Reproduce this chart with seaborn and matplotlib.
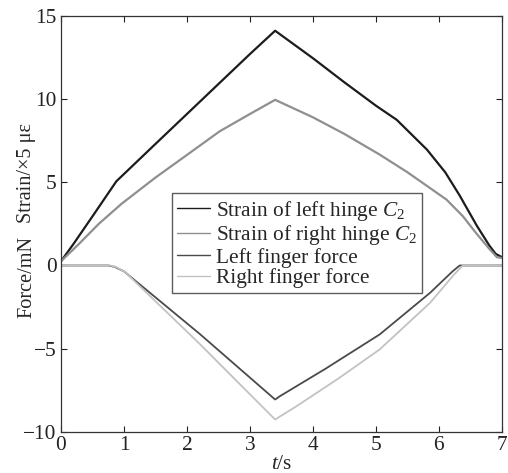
import matplotlib
matplotlib.use("Agg")
import matplotlib.pyplot as plt
import seaborn as sns
import pandas as pd

sns.set_style("ticks")
plt.rcParams['font.family'] = ['Liberation Serif', 'DejaVu Serif']
plt.rcParams['mathtext.fontset'] = 'custom'
plt.rcParams['mathtext.rm'] = 'Liberation Serif'
plt.rcParams['mathtext.it'] = 'Liberation Serif:italic'

# Strain of left hinge C2 (x5 microstrain)
t_strain_left = [0.0, 0.2, 0.5, 0.88, 1.5, 2.0, 2.5, 3.0, 3.4, 4.0, 4.5, 5.0, 5.33, 5.81, 6.1, 6.33, 6.6, 6.8, 6.9, 7.0]
strain_left = [0.25, 1.3, 2.95, 5.06, 7.3, 9.1, 10.9, 12.7, 14.1, 12.45, 11.0, 9.6, 8.75, 6.96, 5.6, 4.2, 2.4, 1.2, 0.7, 0.5]

# Strain of right hinge C2
t_strain_right = [0.0, 0.3, 0.6, 0.96, 1.5, 2.0, 2.52, 3.0, 3.4, 3.6, 4.0, 4.5, 5.06, 5.5, 6.12, 6.38, 6.6, 6.8, 6.92, 7.0]
strain_right = [0.25, 1.35, 2.5, 3.7, 5.28, 6.64, 8.06, 9.1, 9.95, 9.6, 8.9, 7.9, 6.66, 5.6, 3.96, 2.96, 1.9, 1.0, 0.5, 0.45]

# Left finger force (mN)
t_force_left = [0.0, 0.75, 0.85, 1.0, 2.2, 3.4, 3.48, 4.2, 5.06, 5.86, 6.22, 6.33, 7.0]
force_left = [0.0, 0.0, -0.08, -0.35, -4.1, -8.05, -7.84, -6.2, -4.14, -1.64, -0.34, 0.0, 0.0]

# Right finger force (mN)
t_force_right = [0.0, 0.78, 0.88, 1.02, 2.2, 3.4, 3.74, 4.4, 5.06, 5.86, 6.25, 6.38, 7.0]
force_right = [0.0, 0.0, -0.1, -0.4, -4.7, -9.25, -8.45, -6.8, -5.04, -2.24, -0.5, 0.0, 0.0]

labels = ["Strain of left hinge $C_2$", "Strain of right hinge $C_2$",
          "Left finger force", "Right finger force"]
colors = ["#1c1c1c", "#8f8f8f", "#4a4a4a", "#c2c2c2"]
widths = [1.6, 1.6, 1.3, 1.3]
series = [(t_strain_left, strain_left), (t_strain_right, strain_right),
          (t_force_left, force_left), (t_force_right, force_right)]

FS = 15.4

fig = plt.figure(figsize=(5.08, 4.73), dpi=100)
ax = fig.add_axes([0.120, 0.0867, 0.868, 0.880])

for (tt, vv), lab, col, lw in zip(series, labels, colors, widths):
    df = pd.DataFrame({"t": tt, "v": vv})
    sns.lineplot(data=df, x="t", y="v", ax=ax, color=col, linewidth=lw,
                 label=lab, estimator=None, sort=False)

ax.set_xlim(0, 7)
ax.set_ylim(-10, 15)
ax.set_xticks(range(0, 8))
ax.set_yticks([-10, -5, 0, 5, 10, 15])
ax.set_yticklabels(["\u221210", "\u22125", "0", "5", "10", "15"])
ax.tick_params(direction='in', top=True, right=True, length=4, width=0.8,
               labelsize=FS, colors='#222222', pad=3)
for s in ax.spines.values():
    s.set_linewidth(0.9)
    s.set_color('#333333')
    s.set_visible(True)

ax.set_xlabel("$t$/s", fontsize=FS, labelpad=0)
ax.set_ylabel("")
fig.text(0.053, (473 - 173) / 473, "Strain/\u00d75 \u03bc\u03b5", rotation=90,
         ha='center', va='center', fontsize=14.6)
fig.text(0.053, (473 - 277) / 473, "Force/mN", rotation=90,
         ha='center', va='center', fontsize=14.6)

leg = ax.legend(loc='upper left', bbox_to_anchor=(0.252, 0.573), borderaxespad=0,
                fontsize=FS, frameon=True, fancybox=False, handlelength=1.5,
                handletextpad=0.3, borderpad=0.25, labelspacing=0.02)
leg.get_frame().set_edgecolor('#333333')
leg.get_frame().set_linewidth(1.0)
for h in leg.get_lines():
    h.set_linewidth(1.0)

fig.savefig("out.png", dpi=100)
